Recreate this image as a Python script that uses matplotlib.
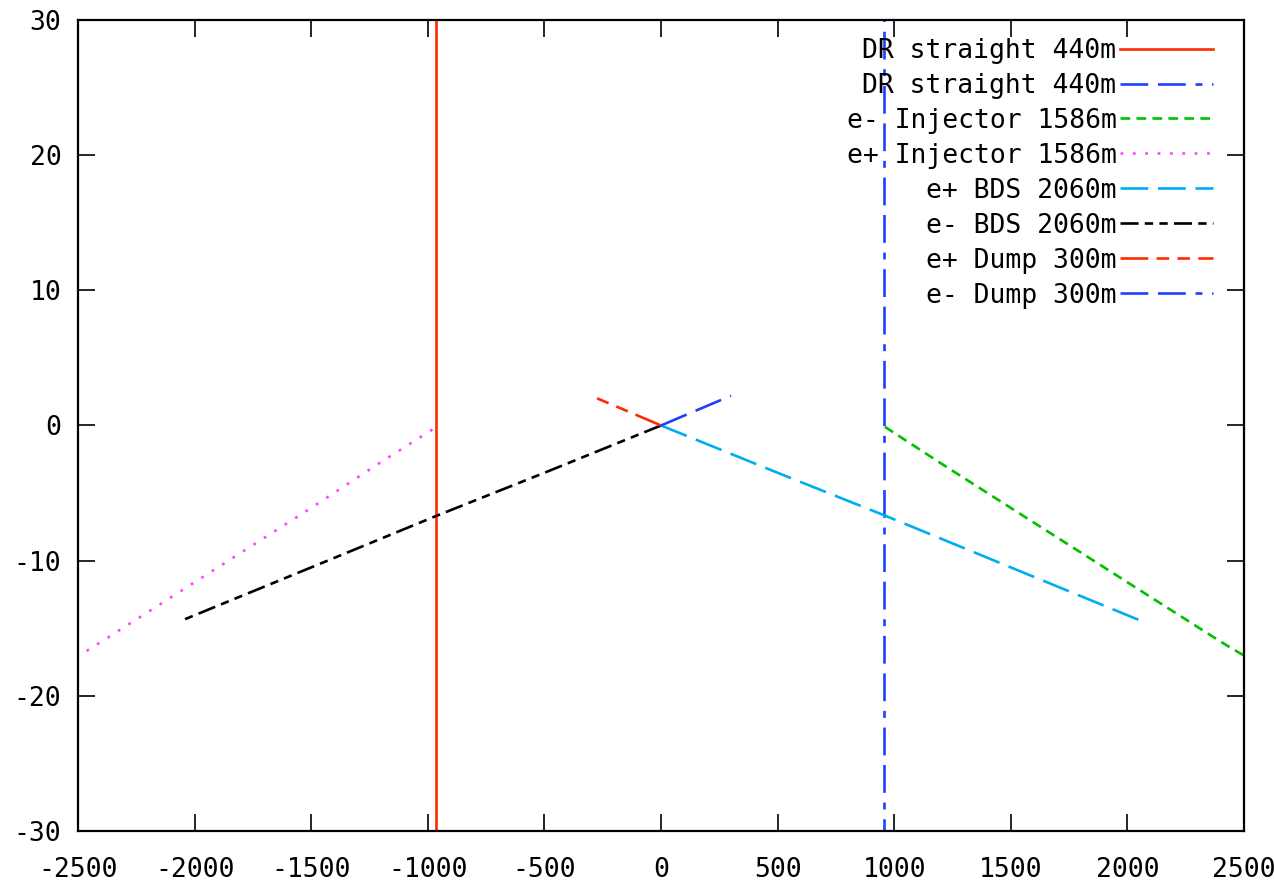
import numpy as np
import matplotlib
matplotlib.use("Agg")
import matplotlib.pyplot as plt

# data (x in m, y in m)
dr_pos_x = [-965, -965]
dr_pos_y = [-220, 220]
dr_ele_x = [957, 957]
dr_ele_y = [-220, 220]

inj_ele_x = [960, 1200, 1500, 1800, 2100, 2400, 2546]
inj_ele_y = [-0.1, -2.8, -6.1, -9.4, -12.7, -16.0, -17.5]
inj_pos_x = [-980, -1200, -1500, -1800, -2100, -2400, -2566]
inj_pos_y = [-0.3, -2.7, -6.1, -9.4, -12.7, -16.0, -17.8]

bds_pos_x = [0, 500, 965, 1500, 2065]
bds_pos_y = [0, -3.5, -6.7, -10.5, -14.5]
bds_ele_x = [0, -500, -965, -1500, -2065]
bds_ele_y = [0, -3.5, -6.7, -10.5, -14.5]

dump_pos_x = [0, -150, -300]
dump_pos_y = [0, 1.1, 2.2]
dump_ele_x = [0, 150, 300]
dump_ele_y = [0, 1.1, 2.2]

red = "#ff2a00"
blue = "#1f3fff"
green = "#00c000"
magenta = "#ff44ff"
cyan = "#00aef0"

plt.rcParams["font.family"] = "DejaVu Sans Mono"
plt.rcParams["lines.scale_dashes"] = False
plt.rcParams["axes.unicode_minus"] = False
char_size = 19
lw = 1.9

fig = plt.figure(figsize=(12.74, 8.83), dpi=100)
ax = fig.add_axes([0.0612, 0.0589, 0.9153, 0.9185])

ax.plot(dr_pos_x, dr_pos_y, color=red, lw=lw, label="DR straight 440m")
ax.plot(dr_ele_x, dr_ele_y, color=blue, lw=lw, dashes=(20, 7, 20, 7, 5, 7), label="DR straight 440m")
ax.plot(inj_ele_x, inj_ele_y, color=green, lw=lw, dashes=(7, 4.5), label="e- Injector 1586m")
ax.plot(inj_pos_x, inj_pos_y, color=magenta, lw=lw, dashes=(2, 6.9), label="e+ Injector 1586m")
ax.plot(bds_pos_x, bds_pos_y, color=cyan, lw=lw, dashes=(20, 7), label="e+ BDS 2060m")
ax.plot(bds_ele_x, bds_ele_y, color="black", lw=lw, dashes=(13, 4.5, 6, 4.5, 6, 4.5), label="e- BDS 2060m")
ax.plot(dump_pos_x, dump_pos_y, color=red, lw=lw, dashes=(20, 6, 9, 6, 9, 6), label="e+ Dump 300m")
ax.plot(dump_ele_x, dump_ele_y, color=blue, lw=lw, dashes=(20, 7, 20, 7, 5, 7), label="e- Dump 300m")

ax.set_xlim(-2500, 2500)
ax.set_ylim(-30, 30)
ax.set_xticks(np.arange(-2500, 2501, 500))
ax.set_yticks(np.arange(-30, 31, 10))
ax.tick_params(direction="in", length=12, width=1.2, labelsize=char_size,
               top=True, right=True)
ax.tick_params(axis="x", pad=19)
ax.tick_params(axis="y", pad=12)
for sp in ax.spines.values():
    sp.set_linewidth(1.6)

leg = ax.legend(loc="upper right", bbox_to_anchor=(1 - 15.5 / 1166, 1 - 2 / 811),
                fontsize=char_size, frameon=False,
                markerfirst=False, handlelength=3.5, labelspacing=0.34,
                handletextpad=0.15, borderaxespad=0.2)
for t in leg.get_texts():
    t.set_ha("right")
leg._legend_box.align = "right"

fig.savefig("out.png", dpi=100)
